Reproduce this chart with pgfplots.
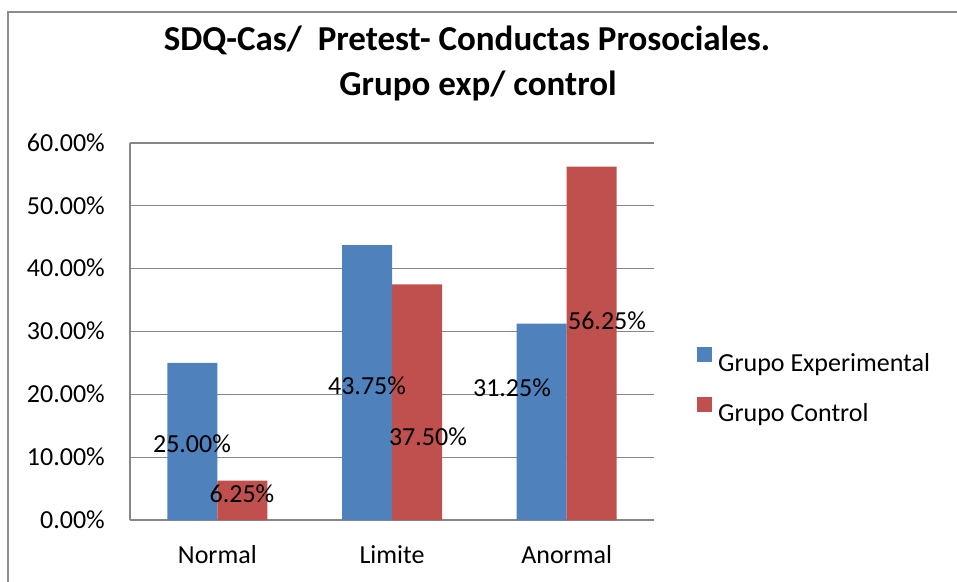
\documentclass[border=0pt]{standalone}
\usepackage{fontspec}
\setmainfont{Carlito}
\usepackage{pgfplots}
\pgfplotsset{compat=1.18}
\definecolor{expblue}{HTML}{4F81BD}
\definecolor{ctrlred}{HTML}{C0504D}
\definecolor{gridgray}{HTML}{868686}
\definecolor{framegray}{HTML}{8C8C8C}
\newcommand\lab{\fontsize{26}{30}\selectfont}
\newcommand\ttl{\fontsize{35}{40}\selectfont\bfseries}

\begin{document}
\begin{tikzpicture}[x=1pt,y=1pt]
\useasboundingbox (0,0) rectangle (957,581);
\draw[framegray, line width=1.5pt] (8,-2) -- (8,569) -- (959,569);
\node[anchor=base, font=\ttl] at (467,530) {SDQ-Cas/\ \ Pretest- Conductas Prosociales.};
\node[anchor=base, font=\ttl] at (478,485) {Grupo exp/ control};
\begin{axis}[at={(130pt,61pt)}, anchor=south west, scale only axis,
  width=524pt, height=377pt,
  xmin=-0.5, xmax=2.5, ymin=0, ymax=60,
  ybar=0pt, bar width=50pt,
  axis x line*=bottom, axis y line*=left,
  axis line style={-, draw=gridgray, line width=1.2pt},
  ymajorgrids, grid style={draw=gridgray, line width=1.2pt},
  major tick length=0pt, tick style={draw=none},
  xtick={0,1,2}, xticklabels={Normal,Limite,Anormal},
  ytick={0,10,20,30,40,50,60},
  yticklabels={0.00\%,10.00\%,20.00\%,30.00\%,40.00\%,50.00\%,60.00\%},
  ticklabel style={font=\lab, inner sep=0pt},
  yticklabel style={anchor=base east, xshift=-25pt, yshift=-8.2pt},
  xticklabel style={anchor=base, yshift=-43pt},
  legend style={at={(1.082,0.356)}, anchor=west, draw=none, fill=none,
    inner sep=0pt, column sep=4pt, row sep=22pt, font=\lab},
  legend cell align=left,
  legend image code/.code={\fill[#1] (0pt,1pt) rectangle (15pt,16pt);},
]
\addplot[fill=expblue, draw=none] coordinates {(0,25) (1,43.75) (2,31.25)};
\addplot[fill=ctrlred, draw=none] coordinates {(0,6.25) (1,37.5) (2,56.25)};
\legend{Grupo Experimental, Grupo Control}
\node[anchor=base, yshift=-8.2pt, font=\lab] at (axis cs:-0.145,12.1) {25.00\%};
\node[anchor=base, yshift=-8.2pt, font=\lab] at (axis cs:0.141,4.14) {6.25\%};
\node[anchor=base, yshift=-8.2pt, font=\lab] at (axis cs:0.857,21.3) {43.75\%};
\node[anchor=base, yshift=-8.2pt, font=\lab] at (axis cs:1.206,13.2) {37.50\%};
\node[anchor=base, yshift=-8.2pt, font=\lab] at (axis cs:1.687,21.0) {31.25\%};
\node[anchor=base, yshift=-8.2pt, font=\lab] at (axis cs:2.231,31.7) {56.25\%};
\end{axis}
\end{tikzpicture}
\end{document}
